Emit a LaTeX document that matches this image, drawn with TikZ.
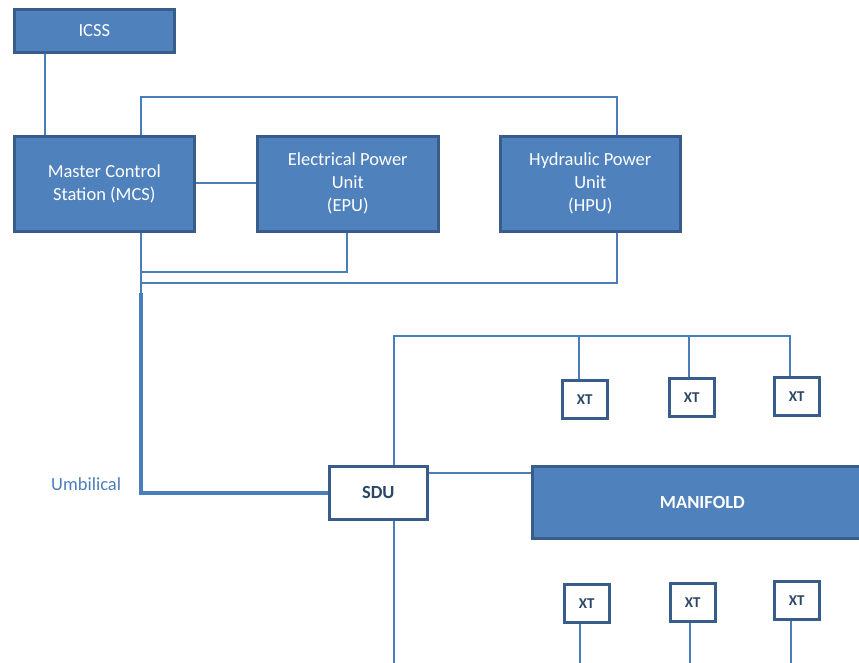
\documentclass[tikz,border=0pt]{standalone}
\usepackage{fontspec}
\setmainfont{Carlito}
\usetikzlibrary{backgrounds}
\definecolor{boxfill}{HTML}{4F81BD}
\definecolor{boxedge}{HTML}{385D8A}
\definecolor{wire}{HTML}{4A7EBB}
\definecolor{darktext}{HTML}{2C4668}
\begin{document}
\begin{tikzpicture}[x=1pt,y=-1pt,
  unitbox/.style={draw=boxedge,fill=boxfill,line width=2.6pt,text=white,
    align=center,inner sep=0pt,anchor=north west,
    font=\fontsize{18.5}{23}\selectfont},
  whitebox/.style={draw=boxedge,fill=white,line width=2.6pt,text=darktext,
    align=center,inner sep=0pt,anchor=north west},
  wireline/.style={draw=wire,line width=1.4pt},
  umbline/.style={draw=wire,line width=4.6pt,line join=miter,line cap=butt}]
\useasboundingbox (0,0) rectangle (859,662);

% surface units
\node[unitbox,minimum width=160pt,minimum height=43pt] (icss) at (13,8) {ICSS};
\node[unitbox,minimum width=180pt,minimum height=95pt] (mcs) at (13,135) {Master Control\\Station (MCS)};
\node[unitbox,minimum width=181pt,minimum height=95pt] (epu) at (256,135) {Electrical Power\\Unit\\(EPU)};
\node[unitbox,minimum width=180pt,minimum height=95pt] (hpu) at (499,135) {Hydraulic Power\\Unit\\(HPU)};

% subsea units
\node[whitebox,minimum width=98pt,minimum height=53pt,
  font=\fontsize{18.5}{22}\bfseries\selectfont] (sdu) at (328,465) {SDU};
\node[unitbox,minimum width=340pt,minimum height=72pt,
  font=\fontsize{18.5}{23}\bfseries\selectfont] (manifold) at (531,465) {MANIFOLD};

\tikzset{xtbox/.style={whitebox,minimum width=45pt,minimum height=38pt,
  font=\fontsize{15}{18}\bfseries\selectfont}}
\node[xtbox] (xta) at (561,379) {XT};
\node[xtbox] (xtb) at (668,377) {XT};
\node[xtbox] (xtc) at (773,376) {XT};
\node[xtbox] (xtd) at (563,583) {XT};
\node[xtbox] (xte) at (669,582) {XT};
\node[xtbox] (xtf) at (773,580) {XT};

\node[text=wire,font=\fontsize{18.5}{23}\selectfont,anchor=west,inner sep=0pt] (umb) at (51,484) {Umbilical};

% junction points
\coordinate (topbus) at (0,97);
\coordinate (epuret) at (0,272);
\coordinate (hpuret) at (0,283);
\coordinate (umbtop) at (141,293);
\coordinate (umbcorner) at (141,493);
\coordinate (xtbus) at (0,336);
\coordinate (seabed) at (0,663.3);

\begin{scope}[on background layer]
  \draw[wireline] (45,0 |- icss.south) -- (45,0 |- mcs.north);
  \draw[wireline] (141,0 |- mcs.north) |- (617,0 |- topbus) -- (617,0 |- hpu.north);
  \draw[wireline] (mcs.east |- 0,183) -- (epu.west |- 0,183);
  \draw[wireline] (141,0 |- mcs.south) -- (umbtop);
  \draw[wireline] (141,0 |- epuret) -| (347,0 |- epu.south);
  \draw[wireline] (141,0 |- hpuret) -| (617,0 |- hpu.south);
  \draw[umbline] (umbtop) -- (umbcorner) -- (sdu.west |- umbcorner);
  % tree connections above the manifold
  \draw[wireline] (394,0 |- sdu.north) |- (790,0 |- xtbus) -- (790,0 |- xtc.north);
  \draw[wireline] (579,0 |- xtbus) -- (579,0 |- xta.north);
  \draw[wireline] (689,0 |- xtbus) -- (689,0 |- xtb.north);
  \draw[wireline] (sdu.east |- 0,473) -- (manifold.west |- 0,473);
  % tree connections below the manifold
  \draw[wireline] (394,0 |- sdu.south) |- (791,0 |- seabed) -- (791,0 |- xtf.south);
  \draw[wireline] (580,0 |- xtd.south) -- (580,0 |- seabed);
  \draw[wireline] (690,0 |- xte.south) -- (690,0 |- seabed);
\end{scope}
\end{tikzpicture}
\end{document}
